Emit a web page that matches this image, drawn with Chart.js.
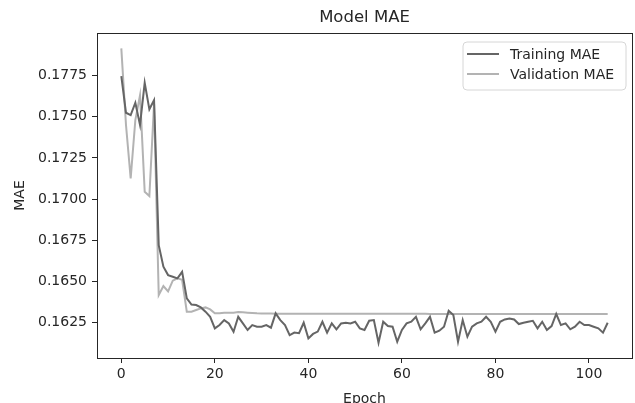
<!DOCTYPE html>
<html>
<head>
<meta charset="utf-8">
<script src="https://cdn.jsdelivr.net/npm/chart.js@4"></script>
<style>
  body { margin: 0; background: #fff; }
  #chart_1 { display: block; }
</style>
</head>
<body>
<canvas id="chart_1" width="635" height="403"></canvas>
<script>
const trainMAE = [
  0.17747, 0.17524, 0.17510, 0.17585, 0.17450, 0.17706, 0.17545, 0.17601, 0.16721, 0.16590,
  0.16539, 0.16529, 0.16519, 0.16559, 0.16398, 0.16360, 0.16357, 0.16343, 0.16317, 0.16286,
  0.16216, 0.16236, 0.16266, 0.16246, 0.16195, 0.16286, 0.16246, 0.16206, 0.16236, 0.16226,
  0.16226, 0.16236, 0.16220, 0.16307, 0.16266, 0.16236, 0.16175, 0.16190, 0.16186, 0.16250,
  0.16155, 0.16182, 0.16196, 0.16256, 0.16190, 0.16246, 0.16210, 0.16246, 0.16250, 0.16246,
  0.16256, 0.16216, 0.16206, 0.16262, 0.16266, 0.16129, 0.16256, 0.16230, 0.16226, 0.16135,
  0.16206, 0.16246, 0.16256, 0.16286, 0.16210, 0.16246, 0.16286, 0.16190, 0.16202, 0.16226,
  0.16323, 0.16297, 0.16135, 0.16266, 0.16165, 0.16226, 0.16246, 0.16256, 0.16286, 0.16256,
  0.16196, 0.16256, 0.16270, 0.16276, 0.16270, 0.16242, 0.16250, 0.16256, 0.16262, 0.16216,
  0.16256, 0.16206, 0.16230, 0.16303, 0.16236, 0.16246, 0.16210, 0.16226, 0.16256, 0.16236,
  0.16236, 0.16226, 0.16216, 0.16190, 0.16250
];
const valMAE = [
  0.17915, 0.17450, 0.17126, 0.17480, 0.17630, 0.17045, 0.17019, 0.17580, 0.16418, 0.16473,
  0.16440, 0.16505, 0.16519, 0.16510, 0.16317, 0.16317, 0.16327, 0.16337, 0.16343, 0.16331,
  0.16307, 0.16307, 0.16311, 0.16311, 0.16311, 0.16315, 0.16313, 0.16311, 0.16309, 0.16307,
  0.16306, 0.16306, 0.16306, 0.16305, 0.16305, 0.16305, 0.16305, 0.16305, 0.16305, 0.16305,
  0.16305, 0.16305, 0.16305, 0.16305, 0.16304, 0.16304, 0.16304, 0.16304, 0.16304, 0.16304,
  0.16304, 0.16304, 0.16304, 0.16304, 0.16304, 0.16304, 0.16304, 0.16304, 0.16304, 0.16304,
  0.16304, 0.16304, 0.16304, 0.16304, 0.16304, 0.16304, 0.16303, 0.16303, 0.16303, 0.16303,
  0.16303, 0.16303, 0.16303, 0.16303, 0.16303, 0.16303, 0.16303, 0.16303, 0.16303, 0.16303,
  0.16303, 0.16303, 0.16303, 0.16303, 0.16303, 0.16303, 0.16303, 0.16303, 0.16303, 0.16303,
  0.16303, 0.16303, 0.16303, 0.16303, 0.16303, 0.16303, 0.16303, 0.16303, 0.16303, 0.16303,
  0.16303, 0.16303, 0.16303, 0.16303, 0.16303
];
const seriesNames = ["Training MAE", "Validation MAE"];
const xTicks = [0, 20, 40, 60, 80, 100];
const yTicks = [0.1625, 0.1650, 0.1675, 0.1700, 0.1725, 0.1750, 0.1775];

const FONT = "'DejaVu Sans', sans-serif";
const INK = "#262626";
const X_MIN = -5.2, X_MAX = 109.2;
const Y_MIN = 0.16036, Y_MAX = 0.18008;

// title and legend box
const decor = {
  id: "decor",
  afterDraw(chart) {
    const { ctx, chartArea: a } = chart;
    ctx.save();
    ctx.fillStyle = INK;
    ctx.font = "16.5px " + FONT;
    ctx.textAlign = "center";
    ctx.textBaseline = "middle";
    ctx.fillText("Model MAE", (a.left + a.right) / 2, 18);

    const bx = a.right - 169, by = a.top + 9, bw = 163, bh = 48;
    ctx.beginPath();
    ctx.roundRect(bx, by, bw, bh, 4);
    ctx.fillStyle = "rgba(255,255,255,0.8)";
    ctx.fill();
    ctx.strokeStyle = "#d6d6d6";
    ctx.lineWidth = 1;
    ctx.stroke();

    chart.data.datasets.forEach((ds, i) => {
      const y = by + 12 + i * 20;
      ctx.beginPath();
      ctx.moveTo(bx + 4, y);
      ctx.lineTo(bx + 36, y);
      ctx.strokeStyle = ds.borderColor;
      ctx.lineWidth = 2;
      ctx.stroke();
      ctx.fillStyle = INK;
      ctx.font = "14px " + FONT;
      ctx.textAlign = "left";
      ctx.fillText(ds.label, bx + 47, y + 1);
    });
    ctx.restore();
  },
};

const toPoints = (arr) => arr.map((v, i) => ({ x: i, y: v }));

// bare axes used only as the top and right spines
const spine = (pos, min, max) => ({
  type: "linear",
  position: pos,
  min: min,
  max: max,
  afterFit: (s) => { if (pos === "top") s.height = 0; else s.width = 0; },
  grid: { drawOnChartArea: false, drawTicks: false },
  border: { display: true, color: INK, width: 1 },
  ticks: { display: false },
});

const ct = document.getElementById("chart_1");

const config = {
  type: "line",
  data: {
    datasets: [
      {
        label: seriesNames[0],
        data: toPoints(trainMAE),
        borderColor: "#656565",
        borderWidth: 2,
        pointRadius: 0,
        tension: 0,
      },
      {
        label: seriesNames[1],
        data: toPoints(valMAE),
        borderColor: "#b3b3b3",
        borderWidth: 2,
        pointRadius: 0,
        tension: 0,
      },
    ],
  },
  options: {
    responsive: false,
    animation: false,
    devicePixelRatio: 1,
    layout: { padding: { top: 33, right: 3, left: 0, bottom: 0 } },
    plugins: {
      legend: { display: false },
      tooltip: { enabled: false },
      title: { display: false },
    },
    scales: {
      x: {
        type: "linear",
        min: X_MIN,
        max: X_MAX,
        afterBuildTicks: (s) => { s.ticks = xTicks.map((v) => ({ value: v })); },
        afterFit: (s) => { s.height = 45; },
        grid: { drawOnChartArea: false, drawTicks: true, tickLength: 5, color: INK },
        border: { display: true, color: INK },
        ticks: { color: INK, font: { family: FONT, size: 14 }, padding: 3, maxRotation: 0 },
        title: {
          display: true,
          text: "Epoch",
          color: INK,
          font: { family: FONT, size: 14, lineHeight: 1 },
          padding: { top: 0, bottom: -3 },
        },
      },
      y: {
        type: "linear",
        min: Y_MIN,
        max: Y_MAX,
        afterBuildTicks: (s) => { s.ticks = yTicks.map((v) => ({ value: v })); },
        afterFit: (s) => { s.width = 97; },
        grid: { drawOnChartArea: false, drawTicks: true, tickLength: 5, color: INK },
        border: { display: true, color: INK },
        ticks: {
          color: INK,
          font: { family: FONT, size: 14 },
          padding: 5,
          callback: (v) => v.toFixed(4),
        },
        title: {
          display: true,
          text: "MAE",
          color: INK,
          font: { family: FONT, size: 14 },
          padding: { top: 11.6, bottom: 0 },
        },
      },
      xTop: spine("top", X_MIN, X_MAX),
      yRight: spine("right", Y_MIN, Y_MAX),
    },
  },
  plugins: [decor],
};

new Chart(ct, config);
</script>
</body>
</html>
